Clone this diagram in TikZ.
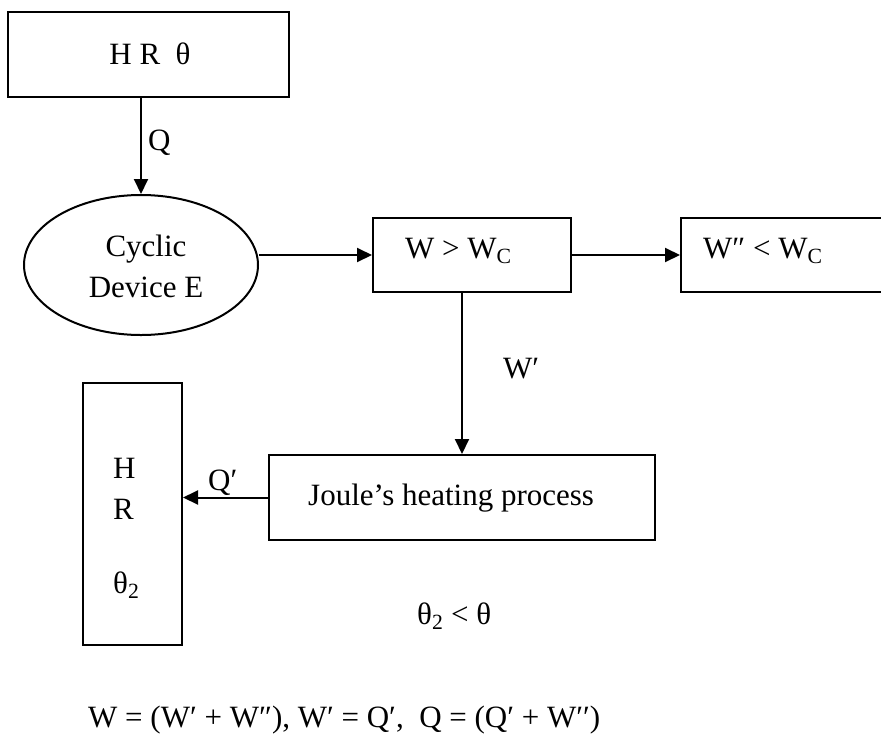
\documentclass[tikz,border=0pt]{standalone}
\usepackage{fontspec}
\setmainfont{Liberation Serif}
\usetikzlibrary{arrows.meta,shapes.geometric}
\begin{document}
\begin{tikzpicture}[x=1pt,y=-1pt,
  every node/.style={font=\fontsize{31}{41}\selectfont, inner sep=0pt},
  boxnode/.style={draw, line width=2pt, rectangle},
  arr/.style={-{Triangle[length=15pt,width=14pt]}, line width=2pt}]
\useasboundingbox (0,0) rectangle (881,734);
\clip (0,0) rectangle (881,734);
% boxes
\node[boxnode, minimum width=281pt, minimum height=85pt] (hr) at (148.5,54.5) {};
\node[draw, ellipse, line width=2pt, minimum width=234pt, minimum height=140pt] (ell) at (141,265) {};
\node[boxnode, minimum width=198pt, minimum height=74pt] (wgt) at (472,255) {};
\node[boxnode, minimum width=219pt, minimum height=74pt] (wlt) at (790.5,255) {};
\node[boxnode, minimum width=386pt, minimum height=85pt] (joule) at (462,497.5) {};
\node[boxnode, minimum width=99pt, minimum height=262pt] (hr2) at (132.5,514) {};
% texts
\node (thr) at (150,54) {H R\ \ θ};
\node[align=center] (tell) at (146,266.5) {Cyclic\\Device E};
\node[anchor=base west] (twgt) at (405,258) {W > W\textsubscript{C}};
\node[anchor=base west] (twlt) at (703,258) {W″ < W\textsubscript{C}};
\node[anchor=base west] (tjoule) at (308,505) {Joule’s heating process};
\node[align=left, anchor=north west] (thr2) at (113,457.5) {H\\R\\[33pt]θ\textsubscript{2}};
\node[anchor=base west] (tcmp) at (417,624) {θ\textsubscript{2} < θ};
\node[anchor=base west] (teq) at (88,727) {W = (W′ + W″), W′ = Q′,\ \ Q = (Q′ + W′′)};
% connectors
\coordinate (a1) at (141,97);
\draw[arr] (hr.south -| a1) -- (ell.north);
\node[anchor=base west] (lq) at (148,150) {Q};
\draw[arr] (ell.east |- wgt.west) -- (wgt.west);
\draw[arr] (wgt.east) -- (wlt.west);
\draw[arr] (wgt.south -| joule.north) -- (joule.north);
\node[anchor=base west] (lw) at (503,378) {W′};
\draw[arr] (joule.west) -- (joule.west -| hr2.east);
\node[anchor=base west] (lq2) at (208,490) {Q′};
\end{tikzpicture}
\end{document}
